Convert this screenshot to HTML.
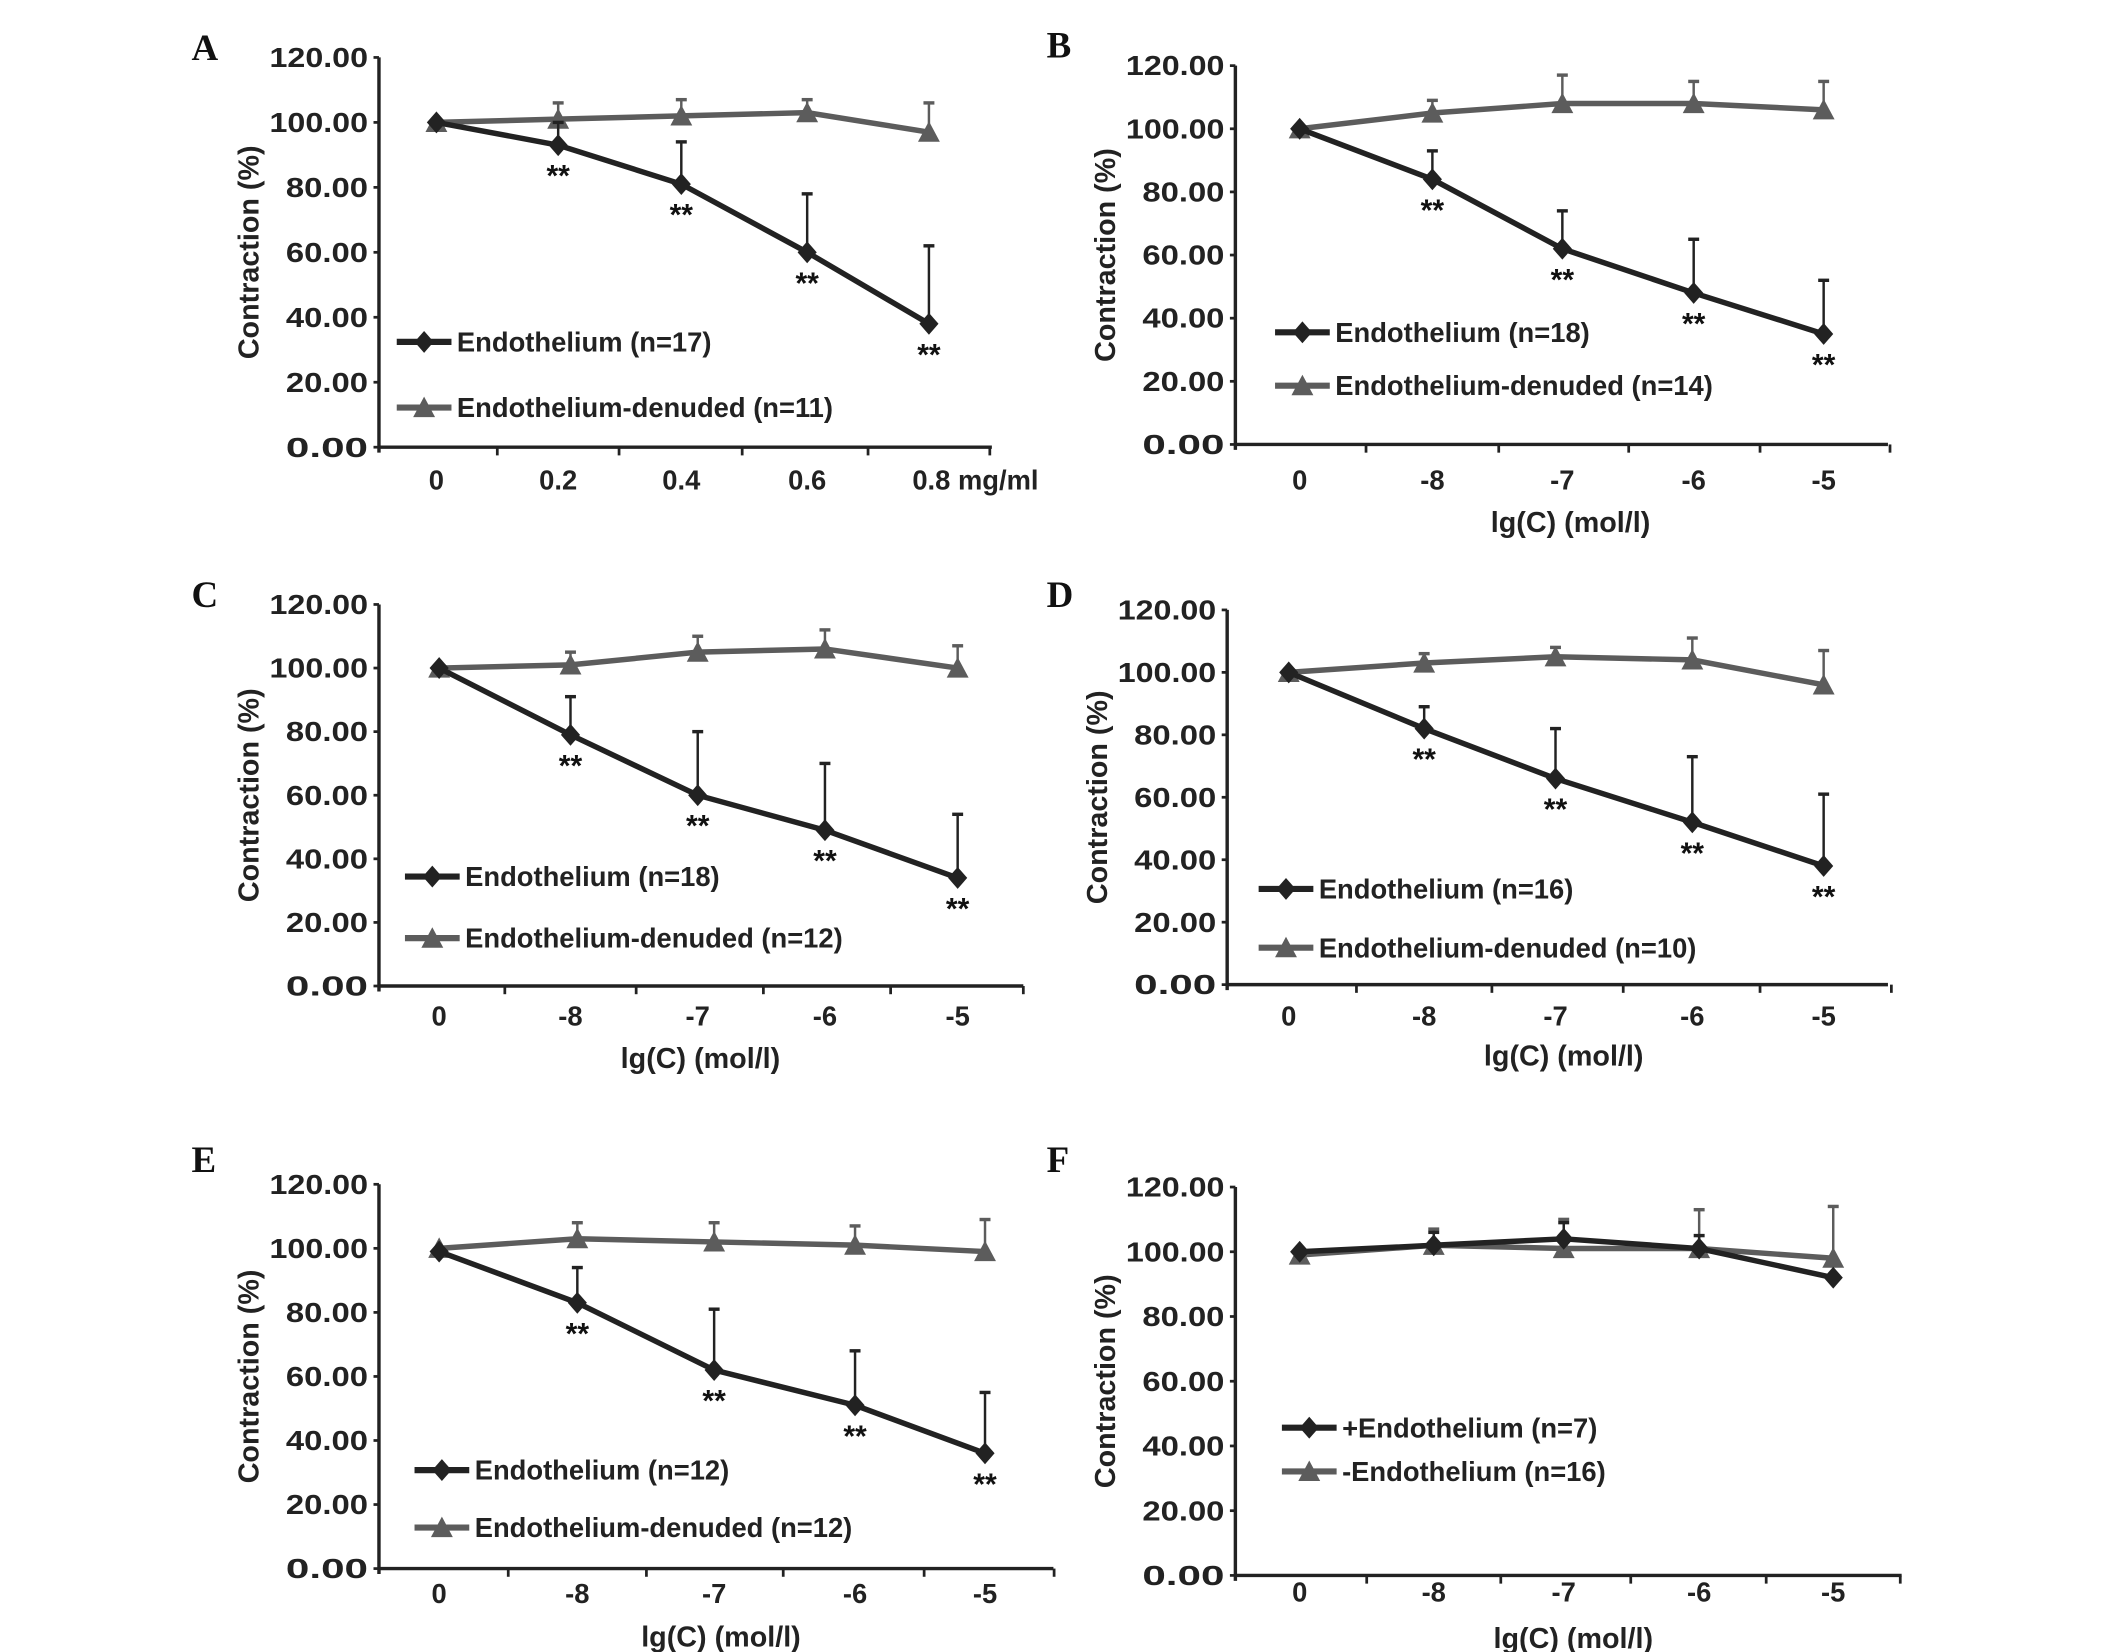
<!DOCTYPE html>
<html><head><meta charset="utf-8"><style>
html,body{margin:0;padding:0;background:#fff;}
svg{display:block;}
text{font-family:"Liberation Sans",sans-serif;font-weight:bold;}
</style></head><body>
<svg id="fig" width="2126" height="1652" viewBox="0 0 1554 1208" preserveAspectRatio="none" xmlns="http://www.w3.org/2000/svg"></svg>
<script>
const yTicks=["0.00","20.00","40.00","60.00","80.00","100.00","120.00"];
const catsA=["0","0.2","0.4","0.6","0.8 mg/ml"];
const catsLg=["0","-8","-7","-6","-5"];
const endoA=[100,93,81,60,38];const errEndoA=[0,7,13,18,24];
const denA=[100,101,102,103,97];const errDenA=[0,5,5,4,9];
const endoB=[100,84,62,48,35];const errEndoB=[0,9,12,17,17];
const denB=[100,105,108,108,106];const errDenB=[0,4,9,7,9];
const endoC=[100,79,60,49,34];const errEndoC=[0,12,20,21,20];
const denC=[100,101,105,106,100];const errDenC=[0,4,5,6,7];
const endoD=[100,82,66,52,38];const errEndoD=[0,7,16,21,23];
const denD=[100,103,105,104,96];const errDenD=[0,3,3,7,11];
const endoE=[99,83,62,51,36];const errEndoE=[0,11,19,17,19];
const denE=[100,103,102,101,99];const errDenE=[0,5,6,6,10];
const endoF=[100,102,104,101,92];const errEndoF=[0,4,5,4,0];
const denF=[99,102,101,101,98];const errDenF=[0,5,9,12,16];
const panels=[
 {L:"A",lx:140,ly:44,ax:277,y0:327,y1:42,xs:[319,408,498,590,679],xe:725,tly:358,cats:catsA,xl:null,e:endoA,ee:errEndoA,d:denA,de:errDenA,sig:true,leg:[290,250,290,298],n:["Endothelium (n=17)","Endothelium-denuded (n=11)"]},
 {L:"B",lx:765,ly:42,ax:903,y0:325,y1:48,xs:[950,1047,1142,1238,1333],xe:1380,tly:358,cats:catsLg,xl:[1148,389],e:endoB,ee:errEndoB,d:denB,de:errDenB,sig:true,leg:[932,243,932,282],n:["Endothelium (n=18)","Endothelium-denuded (n=14)"]},
 {L:"C",lx:140,ly:444,ax:277,y0:721,y1:442,xs:[321,417,510,603,700],xe:748,tly:750,cats:catsLg,xl:[512,781],e:endoC,ee:errEndoC,d:denC,de:errDenC,sig:true,leg:[296,641,296,686],n:["Endothelium (n=18)","Endothelium-denuded (n=12)"]},
 {L:"D",lx:765,ly:444,ax:897,y0:720,y1:446,xs:[942,1041,1137,1237,1333],xe:1380,tly:750,cats:catsLg,xl:[1143,779],e:endoD,ee:errEndoD,d:denD,de:errDenD,sig:true,leg:[920,650,920,693],n:["Endothelium (n=16)","Endothelium-denuded (n=10)"]},
 {L:"E",lx:140,ly:857,ax:277,y0:1147,y1:866,xs:[321,422,522,625,720],xe:770,tly:1172,cats:catsLg,xl:[527,1204],e:endoE,ee:errEndoE,d:denE,de:errDenE,sig:true,leg:[303,1075,303,1117],n:["Endothelium (n=12)","Endothelium-denuded (n=12)"]},
 {L:"F",lx:765,ly:857,ax:903,y0:1152,y1:868,xs:[950,1048,1143,1242,1340],xe:1390,tly:1171,cats:catsLg,xl:[1150,1205],e:endoF,ee:errEndoF,d:denF,de:errDenF,sig:false,leg:[937,1044,937,1076],n:["+Endothelium (n=7)","-Endothelium (n=16)"]}
];
const NS="http://www.w3.org/2000/svg";
const svg=document.getElementById("fig");
function mk(tag,at,parent,txt){const el=document.createElementNS(NS,tag);for(const k in at)el.setAttribute(k,at[k]);if(txt!==undefined)el.textContent=txt;(parent||svg).appendChild(el);return el;}
function diamond(g,x,y,c){return mk("polygon",{points:`${x},${y-8} ${x+7},${y} ${x},${y+8} ${x-7},${y}`,fill:c},g);}
function tri(g,x,y,c){return mk("polygon",{points:`${x},${y-8} ${x+8},${y+7} ${x-8},${y+7}`,fill:c},g);}
const CE="#222",CD="#5c5c5c";
panels.forEach(p=>{
 const g=mk("g",{});
 
 
 const Y=v=>p.y0-(v/120)*(p.y0-p.y1);
 const lab=mk("text",{x:p.lx,y:p.ly,"font-size":27,fill:"#111",style:"font-family:'Liberation Serif',serif"},g,p.L);
 
 
 const ya=mk("line",{x1:p.ax,y1:p.y1,x2:p.ax,y2:p.y0+4,stroke:"#222","stroke-width":2.5},g);
 
 
 const xa=mk("line",{x1:p.ax,y1:p.y0,x2:p.xe,y2:p.y0,stroke:"#222","stroke-width":2.5},g);
 
 
 yTicks.forEach((t,i)=>{const v=i*20;mk("line",{x1:p.ax-4,y1:Y(v),x2:p.ax,y2:Y(v),stroke:"#222","stroke-width":2},g);
  const tl=mk("text",{x:p.ax-8,y:Y(v)+7,"text-anchor":"end","font-size":20,fill:"#222",textLength:t.length>5?72:60,lengthAdjust:"spacingAndGlyphs"},g,t);
  
  });
 const step=p.xs[1]-p.xs[0];
 for(let i=1;i<=5;i++){const tx=p.xs[i-1]+step/2;mk("line",{x1:tx,y1:p.y0,x2:tx,y2:p.y0+6,stroke:"#222","stroke-width":2},g);}
 p.cats.forEach((c,i)=>{const tl=mk("text",{x:p.xs[i]+(c.length>3?34:0),y:p.tly,"text-anchor":"middle","font-size":20,fill:"#222"},g,c);
  
  });
 const yl=mk("text",{x:0,y:0,transform:`translate(${p.ax-88},${(p.y0+p.y1)/2}) rotate(-90)`,"text-anchor":"middle","font-size":21,fill:"#222"},g,"Contraction (%)");
 
 
 if(p.xl){const xl=mk("text",{x:p.xl[0],y:p.xl[1],"text-anchor":"middle","font-size":21,fill:"#222"},g,"lg(C) (mol/l)");
  
  }
 [[p.d,p.de,CD,tri,"series-denuded"],[p.e,p.ee,CE,diamond,"series-endothelium"]].forEach(([vals,errs,col,mark,nm])=>{
  const sg=mk("g",{},g);
  
  
  vals.forEach((v,i)=>{if(errs[i]>0){mk("line",{x1:p.xs[i],y1:Y(v),x2:p.xs[i],y2:Y(v+errs[i]),stroke:col,"stroke-width":1.8},sg);
   mk("line",{x1:p.xs[i]-4,y1:Y(v+errs[i]),x2:p.xs[i]+4,y2:Y(v+errs[i]),stroke:col,"stroke-width":2.5},sg);}});
  mk("polyline",{points:vals.map((v,i)=>p.xs[i]+","+Y(v)).join(" "),fill:"none",stroke:col,"stroke-width":4},sg);
  vals.forEach((v,i)=>{const m=mark(sg,p.xs[i],Y(v),col);
   
   });
 });
 if(p.sig){p.e.forEach((v,i)=>{if(i>0){const s=mk("text",{x:p.xs[i],y:Y(v)+30,"text-anchor":"middle","font-size":22,fill:"#111"},g,"**");
   
   }});}
 [[p.leg[0],p.leg[1],CE,diamond,p.n[0]],[p.leg[2],p.leg[3],CD,tri,p.n[1]]].forEach(([lx,ly,col,mark,name])=>{
  const lg=mk("g",{},g);
  
  
  mk("line",{x1:lx,y1:ly,x2:lx+40,y2:ly,stroke:col,"stroke-width":4.5},lg);
  mark(lg,lx+20,ly,col);
  mk("text",{x:lx+44,y:ly+7,"font-size":20,fill:"#222"},lg,name);
 });
});
</script>
</body></html>
